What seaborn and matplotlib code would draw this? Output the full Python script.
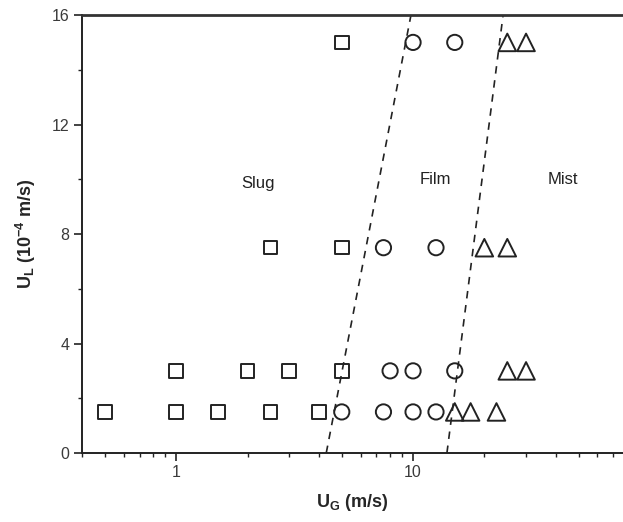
import numpy as np
import pandas as pd
import matplotlib
matplotlib.use("Agg")
import matplotlib.pyplot as plt
import matplotlib.ticker as mticker
import seaborn as sns

# Flow regime data (U_G in m/s, U_L in 1e-4 m/s)
slug_ug = [0.5, 1, 1.5, 2.5, 4, 1, 2, 3, 5, 2.5, 5, 5]
slug_ul = [1.5, 1.5, 1.5, 1.5, 1.5, 3, 3, 3, 3, 7.5, 7.5, 15]
film_ug = [5, 7.5, 10, 12.5, 8, 10, 15, 7.5, 12.5, 10, 15]
film_ul = [1.5, 1.5, 1.5, 1.5, 3, 3, 3, 7.5, 7.5, 15, 15]
mist_ug = [15, 17.5, 22.5, 25, 30, 20, 25, 25, 30]
mist_ul = [1.5, 1.5, 1.5, 3, 3, 7.5, 7.5, 15, 15]

# Transition boundaries (dashed)
bound_y = [0, 16]
slug_film_x = [4.3, 9.8]
film_mist_x = [13.9, 24.0]

# Region labels
region_names = ["Slug", "Film", "Mist"]
region_x = [2.22, 12.4, 43]
region_y = [9.85, 10, 10]

sns.set_theme(style="ticks")
plt.rcParams["font.family"] = ["Liberation Sans", "DejaVu Sans"]
plt.rcParams["mathtext.fontset"] = "custom"
plt.rcParams["mathtext.rm"] = "Liberation Sans"
plt.rcParams["mathtext.bf"] = "Liberation Sans:bold"
plt.rcParams["mathtext.default"] = "bf"

fig = plt.figure(figsize=(6.23, 5.22), dpi=100)
ax = fig.add_axes([0.1316, 0.1322, 0.8684, 0.839])

for ug, ul, mk, sz in [(slug_ug, slug_ul, "s", 95),
                       (film_ug, film_ul, "o", 120),
                       (mist_ug, mist_ul, "^", 160)]:
    sns.scatterplot(x=ug, y=ul, marker=mk, s=sz, color="k", ax=ax, zorder=3)
    coll = ax.collections[-1]
    coll.set_facecolor("none")
    coll.set_edgecolor("#222222")
    coll.set_linewidth(1.4)

for bx in [slug_film_x, film_mist_x]:
    ax.plot(bx, bound_y, color="#222222", lw=1.2, ls=(0, (4.5, 4)), zorder=2)

for name, tx, ty in zip(region_names, region_x, region_y):
    ax.text(tx, ty, name, ha="center", va="center", fontsize=12, color="#222222")

ax.set_xscale("log")
ax.set_xlim(0.4, 77)
ax.set_ylim(0, 16)
ax.set_yticks([0, 4, 8, 12, 16])
ax.yaxis.set_minor_locator(mticker.MultipleLocator(2))
ax.xaxis.set_major_locator(mticker.FixedLocator([1, 10]))
ax.xaxis.set_major_formatter(mticker.FormatStrFormatter("%g"))
ax.xaxis.set_minor_locator(mticker.LogLocator(base=10, subs=np.arange(2, 10), numticks=20))
ax.xaxis.set_minor_formatter(mticker.NullFormatter())

ax.tick_params(which="major", direction="out", length=6, width=1.2,
               labelsize=11.5, labelcolor="#3a3a3a", color="#222222", pad=3)
ax.tick_params(which="minor", direction="out", length=3, width=1.0, color="#222222")

ax.spines["right"].set_visible(False)
for side in ["left", "bottom"]:
    ax.spines[side].set_linewidth(1.4)
    ax.spines[side].set_color("#222222")
ax.spines["top"].set_linewidth(2.0)
ax.spines["top"].set_color("#333333")

ax.set_xlabel("U$_G$ (m/s)", fontsize=13, fontweight="bold", labelpad=8)
ax.set_ylabel("U$_L$ (10$^{-4}$ m/s)", fontsize=13, fontweight="bold", labelpad=10)

fig.savefig("out.png", dpi=100)
